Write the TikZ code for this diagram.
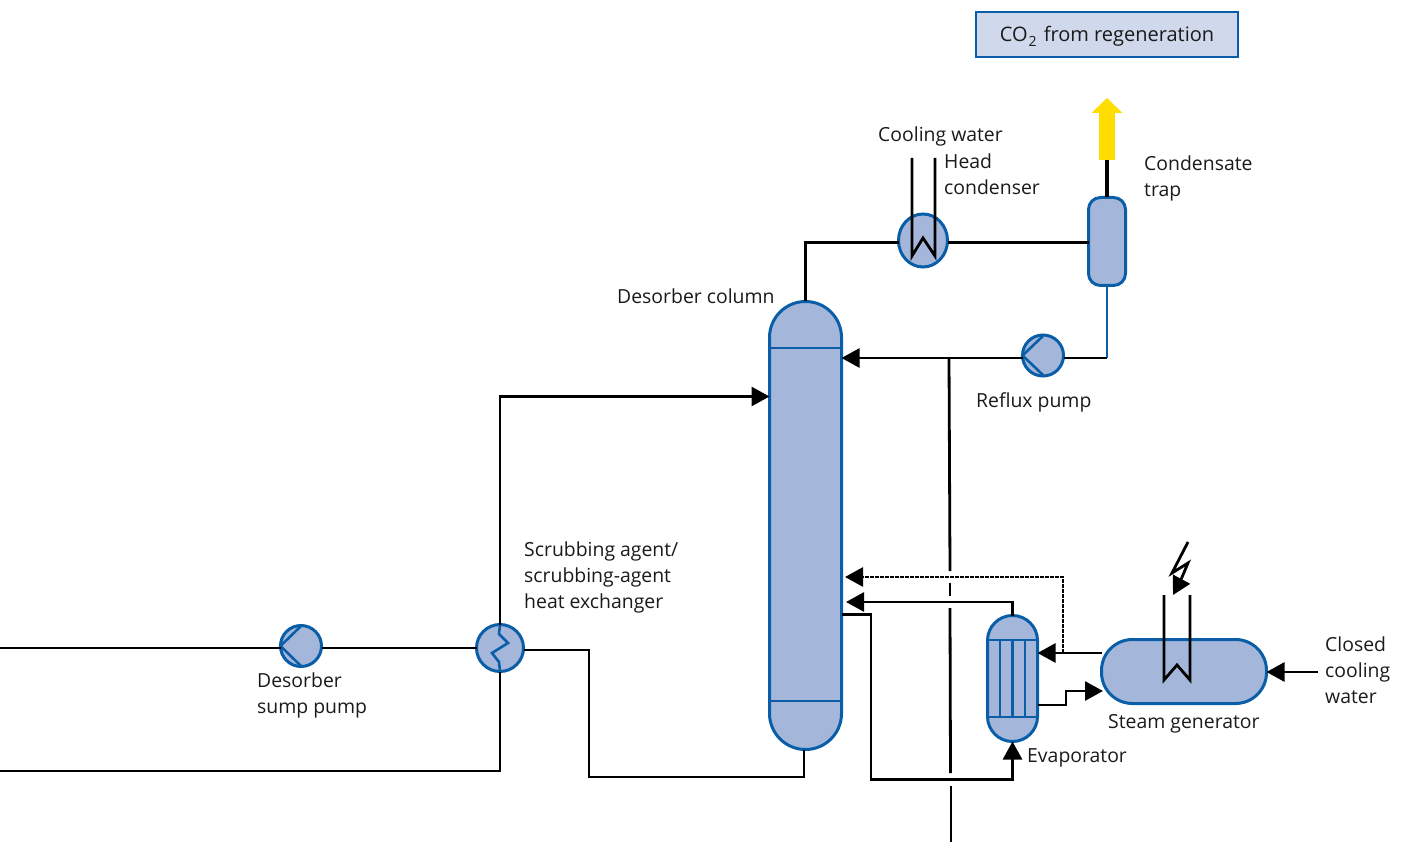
\documentclass[tikz,border=0pt]{standalone}
\usepackage{fontspec}
\setmainfont{Open Sans}
\usetikzlibrary{arrows.meta,shapes.geometric}
\definecolor{vfill}{HTML}{A4B7DB}
\definecolor{vblue}{HTML}{0A5EA8}
\definecolor{boxfill}{HTML}{D0D8EC}
\definecolor{txt}{HTML}{1A1A1A}
\definecolor{co2y}{HTML}{FFDD00}
\tikzset{
 vessel/.style={draw=vblue,fill=vfill,line width=3pt,inner sep=0pt,outer sep=0pt},
 roundv/.style={vessel,ellipse},
 inner line/.style={draw=vblue,line width=2.6pt},
 pipe/.style={draw=black,line width=2.8pt,line join=miter},
 flow/.style={pipe,-{Triangle[length=18pt,width=19pt]}},
 flowdot/.style={flow,dash pattern=on 1.6pt off 0.9pt},
 label/.style={text=txt,anchor=west,align=left,inner sep=0pt,font=\fontsize{19.4}{26}\selectfont},
}
\begin{document}
\begin{tikzpicture}[x=1pt,y=-1pt]
\useasboundingbox (0,0) rectangle (1403,842);
% free ends and bends
\coordinate (leftA) at (0,648);
\coordinate (leftB) at (0,771);
\coordinate (leftBc) at (500,771);
\coordinate (cwIn) at (1318,672);
\coordinate (branch) at (949,358);
\coordinate (bottom) at (951,842);
% vessels
\node[vessel,minimum width=72pt,minimum height=448pt,rounded corners=36pt] (col) at (805.5,525.5) {};
\node[roundv,minimum width=49pt,minimum height=53pt] (cond) at (923,240.5) {};
\node[vessel,minimum width=37pt,minimum height=88pt,rounded corners=12pt] (trap) at (1107,241.5) {};
\node[roundv,minimum size=41pt] (rpump) at (1043,355.5) {};
\node[roundv,minimum size=41pt] (spump) at (301,646) {};
\node[roundv,minimum size=47pt] (hx) at (500,648) {};
\node[vessel,minimum width=50pt,minimum height=126pt,rounded corners=25pt] (evap) at (1012.5,678.5) {};
\node[vessel,minimum width=165pt,minimum height=64pt,rounded corners=31pt] (sg) at (1184,671.5) {};
\node[draw=vblue,fill=boxfill,line width=2pt,minimum width=262pt,minimum height=45pt,inner sep=0pt,text=txt,font=\fontsize{20}{26}\selectfont,text height=20pt,text depth=5pt] (co2) at (1107,34.5) {CO\kern1pt\raisebox{-5pt}{\fontsize{14}{14}\selectfont 2}\kern2pt{} from regeneration};
% column internals
\coordinate (colT) at (805.5,301);
\draw[inner line] (col.west |- 0,348) -- (col.east |- 0,348);
\draw[inner line] (col.west |- 0,701) -- (col.east |- 0,701);
% evaporator internals
\draw[inner line] (evap.west |- 0,640) -- (evap.east |- 0,640);
\draw[inner line] (evap.west |- 0,717) -- (evap.east |- 0,717);
\draw[inner line] (1000,640) -- (1000,717);
\draw[inner line] (1012.5,640) -- (1012.5,717);
\draw[inner line] (1025,640) -- (1025,717);
% pump symbols
\draw[inner line] (1043,336) -- (rpump.west) -- (1043,375);
\draw[inner line] (301,626) -- (spump.west) -- (301,666);
% exchanger zigzag
\draw[inner line] (hx.north) -- (499,634) -- (508,643) -- (492,653) -- (499,662) -- (hx.south);
% main pipes
\draw[pipe] (leftA) -- (spump.west |- leftA);
\draw[pipe] (spump.east |- 0,648) -- (hx.west);
\draw[pipe] (hx.east |- 0,650) -- (589,650) -- (589,777) -- (804,777) -- (804,750);
\draw[pipe] (leftB) -- (leftBc) -- (hx.south);
\draw[flow] (hx.north) -- (500,396.5) -- (col.west |- 0,396.5);
\draw[pipe] (colT) -- (805.5,242.5) -- (cond.west |- 0,242.5);
\draw[pipe] (cond.east |- 0,242.5) -- (trap.west |- 0,242.5);
\draw[line width=4.5pt,draw=black] (trap.north) -- (1107,160);
\draw[draw=co2y,line width=16pt,-{Triangle[length=15pt,width=30pt]}] (1107,160) -- (1107,98);
\draw[draw=vblue,line width=2.4pt] (trap.south) -- (1107,358);
\draw[pipe] (1107,358) -- (rpump.east |- 0,358);
\draw[flow] (rpump.west |- 0,358) -- (col.east |- 0,358);
% branch with gaps
\draw[pipe] (branch) -- (950,571);
\draw[pipe] (950,583) -- (950,596);
\draw[pipe] (950,608) -- (950.5,773);
\draw[pipe] (951,786) -- (bottom);
% evaporator circuit
\draw[flowdot] (1063,653) -- (1063,577) -- (845,577);
\draw[flow] (evap.north) -- (1012.5,602) -- (846,602);
\draw[flow] (col.east |- 0,614.5) -- (871,614.5) -- (871,779.5) -- (1012.5,779.5) -- (evap.south);
\draw[flow] (sg.west |- 0,653) -- (evap.east |- 0,653);
\draw[flow] (evap.east |- 0,705) -- (1066,705) -- (1066,691) -- (1103,691);
\draw[flow] (cwIn) -- (sg.east |- cwIn);
% coils
\draw[pipe] (912,158) -- (912,256) -- (923,238) -- (935,256) -- (935,158);
\draw[pipe] (1164,595) -- (1164,680) -- (1177,665) -- (1190,680) -- (1190,595);
% lightning
\draw[pipe,-{Triangle[length=18pt,width=19pt]}] (1188,542) -- (1172,573) -- (1188,563) -- (1180,582) -- (1173,595);
% labels
\node[label] (l1) at (878,136.5) {Cooling water};
\node[label] (l2) at (944,174.5) {Head\\condenser};
\node[label] (l3) at (1144,178) {Condensate\\trap};
\node[label] (l4) at (617,296) {Desorber column};
\node[label] (l5) at (976,402.5) {Reflux pump};
\node[label] (l6) at (524,577.5) {Scrubbing agent/\\scrubbing-agent\\heat exchanger};
\node[label] (l7) at (257,695.5) {Desorber\\sump pump};
\node[label] (l8) at (1325,670) {Closed\\cooling\\water};
\node[label] (l9) at (1108,723.5) {Steam generator};
\node[label] (l10) at (1027,757.5) {Evaporator};
\end{tikzpicture}
\end{document}
